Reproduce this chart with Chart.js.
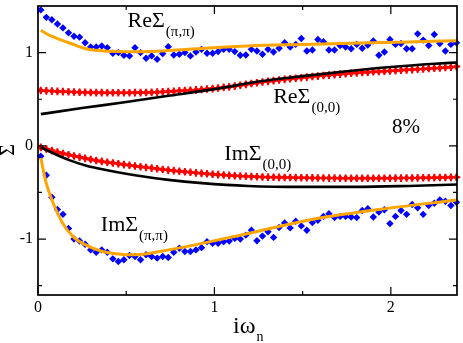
<!DOCTYPE html>
<html><head><meta charset="utf-8">
<script src="https://cdn.jsdelivr.net/npm/chart.js@4"></script>
<style>html,body{margin:0;padding:0;background:#fff}canvas{display:block}</style>
</head><body>
<canvas id="c" width="463" height="343"></canvas>
<script>
// Matsubara frequencies i*omega_n
const wn = [0.0157,0.0471,0.0785,0.1100,0.1414,0.1728,0.2042,0.2356,0.2670,0.2985,0.3299,0.3613,0.3927,0.4241,0.4555,0.4869,0.5184,0.5498,0.5812,0.6126,0.6440,0.6754,0.7069,0.7383,0.7697,0.8011,0.8325,0.8639,0.8954,0.9268,0.9582,0.9896,1.0210,1.0524,1.0838,1.1153,1.1467,1.1781,1.2095,1.2409,1.2723,1.3038,1.3352,1.3666,1.3980,1.4294,1.4608,1.4923,1.5237,1.5551,1.5865,1.6179,1.6493,1.6808,1.7122,1.7436,1.7750,1.8064,1.8378,1.8692,1.9007,1.9321,1.9635,1.9949,2.0263,2.0577,2.0892,2.1206,2.1520,2.1834,2.2148,2.2462,2.2777,2.3091,2.3405,2.3719];

// Re Sigma(pi,pi) - blue diamonds
const reSigPiPi = [1.458,1.378,1.352,1.307,1.265,1.212,1.176,1.166,1.106,1.060,1.060,1.071,1.053,0.993,1.000,0.971,0.965,1.053,1.000,0.940,0.965,0.929,0.989,1.063,0.975,0.982,1.000,0.965,1.007,1.035,0.993,0.993,1.011,1.035,1.035,1.011,0.971,0.975,1.035,1.018,0.982,1.035,1.007,1.046,1.106,1.060,1.088,1.152,1.018,1.028,1.141,1.116,1.028,1.028,1.077,1.060,1.042,1.088,1.046,1.081,1.124,0.971,1.007,1.141,1.088,1.098,1.042,1.042,1.201,1.134,1.077,1.194,1.098,1.018,1.088,1.106];
// Im Sigma(pi,pi) - blue diamonds
const imSigPiPi = [-0.111,-0.315,-0.552,-0.683,-0.735,-0.887,-1.000,-1.021,-1.056,-1.116,-1.141,-1.116,-1.141,-1.212,-1.240,-1.222,-1.177,-1.187,-1.222,-1.169,-1.187,-1.204,-1.187,-1.198,-1.141,-1.098,-1.134,-1.134,-1.116,-1.092,-1.028,-1.046,-1.046,-1.028,-1.021,-0.993,-1.000,-0.958,-0.905,-1.018,-0.968,-0.922,-0.982,-0.876,-0.827,-0.880,-0.809,-0.859,-0.905,-0.823,-0.799,-0.757,-0.728,-0.770,-0.757,-0.757,-0.764,-0.770,-0.693,-0.675,-0.764,-0.711,-0.686,-0.834,-0.757,-0.693,-0.735,-0.630,-0.665,-0.735,-0.640,-0.616,-0.580,-0.595,-0.640,-0.605];
// Re Sigma(0,0) - red markers
const reSig00 = [0.594,0.590,0.587,0.584,0.582,0.580,0.577,0.575,0.574,0.572,0.571,0.571,0.570,0.570,0.570,0.570,0.570,0.571,0.571,0.572,0.574,0.576,0.579,0.582,0.585,0.590,0.593,0.597,0.600,0.604,0.609,0.614,0.620,0.627,0.633,0.641,0.650,0.659,0.668,0.676,0.684,0.691,0.699,0.706,0.713,0.719,0.725,0.731,0.737,0.743,0.748,0.754,0.759,0.764,0.769,0.774,0.778,0.783,0.787,0.790,0.794,0.797,0.800,0.804,0.807,0.811,0.815,0.818,0.822,0.825,0.829,0.832,0.836,0.840,0.844,0.850];
// Im Sigma(0,0) - red markers
const imSig00 = [-0.016,-0.034,-0.051,-0.067,-0.082,-0.095,-0.109,-0.121,-0.134,-0.146,-0.157,-0.167,-0.176,-0.184,-0.192,-0.201,-0.209,-0.217,-0.224,-0.232,-0.239,-0.246,-0.254,-0.260,-0.266,-0.272,-0.278,-0.284,-0.290,-0.295,-0.300,-0.305,-0.309,-0.313,-0.317,-0.321,-0.324,-0.327,-0.330,-0.332,-0.334,-0.336,-0.337,-0.338,-0.339,-0.340,-0.341,-0.342,-0.343,-0.344,-0.345,-0.345,-0.346,-0.346,-0.347,-0.347,-0.348,-0.348,-0.348,-0.348,-0.348,-0.347,-0.347,-0.347,-0.346,-0.346,-0.345,-0.345,-0.344,-0.343,-0.342,-0.341,-0.340,-0.339,-0.338,-0.337];

// black curves (0,0)
const blackReX = [0.016,0.25,0.5,0.75,1.0,1.25,1.5,1.75,2.0,2.25,2.375];
const blackReY = [0.34,0.405,0.47,0.54,0.608,0.69,0.748,0.80,0.845,0.88,0.894];
const blackImX = [0.016,0.083,0.177,0.27,0.365,0.55,0.74,0.93,1.19,1.5,1.8,2.1,2.375];
const blackImY = [-0.016,-0.076,-0.153,-0.21,-0.252,-0.315,-0.365,-0.40,-0.43,-0.44,-0.44,-0.43,-0.415];
// orange curves (pi,pi)
const orangeReX = [0.016,0.05,0.1,0.175,0.27,0.36,0.45,0.55,0.74,0.93,1.19,1.5,1.77,2.1,2.375];
const orangeReY = [1.24,1.2,1.159,1.106,1.042,1.02,1.012,1.01,1.022,1.045,1.072,1.088,1.1,1.115,1.128];
const orangeImX = [0.016,0.045,0.083,0.14,0.2,0.27,0.365,0.48,0.55,0.74,0.93,1.18,1.545,1.92,2.375];
const orangeImY = [-0.13,-0.39,-0.6,-0.83,-0.976,-1.063,-1.134,-1.165,-1.169,-1.116,-1.046,-0.945,-0.792,-0.686,-0.58];

const xTicks = [0,1,2];
const xTickLabels = ['0','1','2'];
const yTicks = [-1,0,1];
const yTickLabels = ['-1','0','1'];

const pts = (xs, ys) => xs.map((x,i)=>({x, y: ys[i]}));
const FONT = '"Liberation Serif","Times New Roman",serif';

function lineDs(xs, ys, color, w){
  return {data: pts(xs,ys), showLine:true, borderColor:color, borderWidth:w, pointRadius:0,
    cubicInterpolationMode:'monotone', fill:false, clip:false};
}
function markDs(xs, ys, color, r){
  return {data: pts(xs,ys), showLine:false, pointStyle:'rectRot', pointRadius:r,
    backgroundColor:color, borderColor:color, borderWidth:0, clip:false};
}
function plusDs(xs, ys, color, r){
  return {data: pts(xs,ys), showLine:false, pointStyle:'cross', pointRadius:r,
    backgroundColor:color, borderColor:color, borderWidth:2, clip:false};
}

function drawLabel(ctx, main, sub, px, py, fs, ss, dy){
  ctx.font = fs+'px '+FONT;
  ctx.textAlign='left'; ctx.textBaseline='alphabetic';
  ctx.fillText(main, px, py);
  const w = ctx.measureText(main).width;
  if(sub){ ctx.font = ss+'px '+FONT; ctx.fillText(sub, px+w+1, py+dy); }
}

const frame = {
  id:'frame',
  afterDraw(chart){
    const {ctx, chartArea:a, scales:{x,y}} = chart;
    ctx.save();
    ctx.strokeStyle='#000'; ctx.fillStyle='#000'; ctx.lineWidth=1.7;
    ctx.strokeRect(a.left, a.top, a.right-a.left, a.bottom-a.top);
    ctx.lineWidth=1.2;
    for(let v=0; v<=2.375; v+=0.5){
      const p = x.getPixelForValue(v); const L = (Math.abs(v-Math.round(v))<1e-6)?8:4;
      ctx.beginPath(); ctx.moveTo(p,a.bottom); ctx.lineTo(p,a.bottom-L);
      ctx.moveTo(p,a.top); ctx.lineTo(p,a.top+L); ctx.stroke();
    }
    for(let v=-1.5; v<1.5; v+=0.5){
      const p = y.getPixelForValue(v); const L = (Math.abs(v-Math.round(v))<1e-6)?8:4;
      ctx.beginPath(); ctx.moveTo(a.left,p); ctx.lineTo(a.left+L,p);
      ctx.moveTo(a.right,p); ctx.lineTo(a.right-L,p); ctx.stroke();
    }
    ctx.font='16px '+FONT; ctx.textAlign='center'; ctx.textBaseline='alphabetic';
    xTicks.forEach((v,i)=>ctx.fillText(xTickLabels[i], x.getPixelForValue(v), a.bottom+17));
    ctx.textAlign='right'; ctx.textBaseline='middle';
    yTicks.forEach((v,i)=>ctx.fillText(yTickLabels[i], a.left-5, y.getPixelForValue(v)));
    ctx.save(); ctx.translate(9,150); ctx.rotate(-Math.PI/2);
    ctx.font='20px '+FONT; ctx.textAlign='center'; ctx.textBaseline='middle';
    ctx.fillText('Σ',0,0); ctx.restore();
    drawLabel(ctx,'iω','n',233,333,24,14,8);
    const L = (wx,vy)=>[x.getPixelForValue(wx), y.getPixelForValue(vy)];
    let p;
    p=L(0.508,1.278); drawLabel(ctx,'ReΣ','(π,π)',p[0],p[1],22,15,9);
    p=L(1.333,0.463); drawLabel(ctx,'ReΣ','(0,0)',p[0],p[1],22,15,9);
    p=L(2.006,0.135); drawLabel(ctx,'8%',null,p[0],p[1],21,0,0);
    p=L(1.056,-0.150); drawLabel(ctx,'ImΣ','(0,0)',p[0],p[1],22,15,9);
    p=L(0.356,-0.912); drawLabel(ctx,'ImΣ','(π,π)',p[0],p[1],22,15,9);
    ctx.restore();
  }
};

new Chart(document.getElementById('c'), {
  type:'scatter',
  data:{datasets:[
    lineDs(orangeReX, orangeReY, '#ffa500', 3),
    lineDs(orangeImX, orangeImY, '#ffa500', 3),
    lineDs(blackReX, blackReY, '#000000', 2.6),
    lineDs(blackImX, blackImY, '#000000', 2.6),
    plusDs(wn, reSig00, '#ff0000', 3.8),
    plusDs(wn, imSig00, '#ff0000', 3.8),
    markDs(wn, reSig00, '#ff0000', 3.4),
    markDs(wn, imSig00, '#ff0000', 3.4),
    markDs(wn, reSigPiPi, '#0000ff', 3.7),
    markDs(wn, imSigPiPi, '#0000ff', 3.7)
  ]},
  options:{
    responsive:false, devicePixelRatio:1, animation:false, events:[],
    layout:{padding:{left:38, right:4.5, top:2, bottom:48}},
    scales:{
      x:{type:'linear', min:0, max:2.375, display:false},
      y:{type:'linear', min:-1.6, max:1.5, display:false}
    },
    plugins:{legend:{display:false}, tooltip:{enabled:false}}
  },
  plugins:[frame]
});
</script>
</body></html>
